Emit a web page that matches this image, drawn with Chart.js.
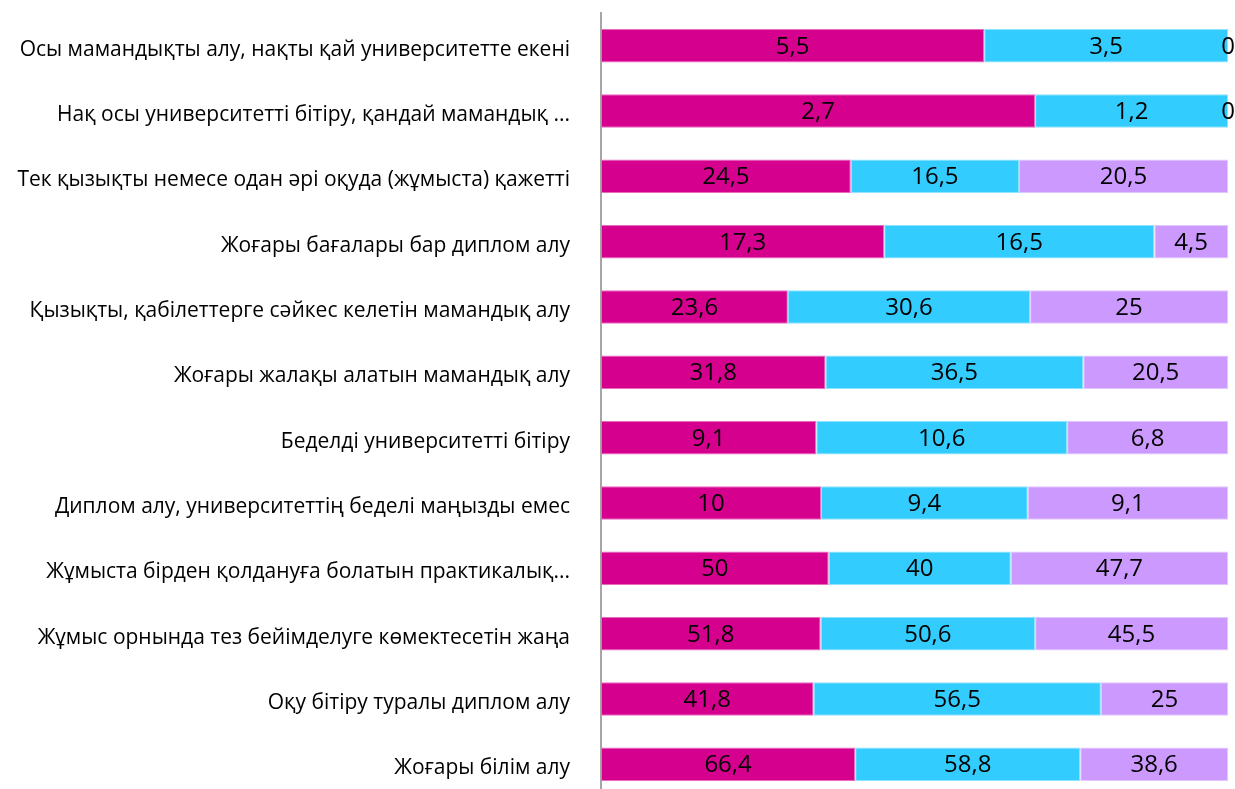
<!DOCTYPE html>
<html>
<head>
<meta charset="utf-8">
<script src="https://cdn.jsdelivr.net/npm/chart.js@4/dist/chart.umd.min.js"></script>
<style>
  html, body { margin: 0; padding: 0; background: #fff; overflow: hidden; }
  #wrap { position: relative; width: 1235px; height: 800px; }
</style>
</head>
<body>
<div id="wrap"><canvas id="c"></canvas></div>
<script>
const categories = [
  "Осы мамандықты алу, нақты қай университетте екені",
  "Нақ осы университетті бітіру, қандай мамандық ...",
  "Тек қызықты немесе одан әрі оқуда (жұмыста) қажетті",
  "Жоғары бағалары бар диплом алу",
  "Қызықты, қабілеттерге сәйкес келетін мамандық алу",
  "Жоғары жалақы алатын мамандық алу",
  "Беделді университетті бітіру",
  "Диплом алу, университеттің беделі маңызды емес",
  "Жұмыста бірден қолдануға болатын практикалық...",
  "Жұмыс орнында тез бейімделуге көмектесетін жаңа",
  "Оқу бітіру туралы диплом алу",
  "Жоғары білім алу"
];
const seriesA = [5.5, 2.7, 24.5, 17.3, 23.6, 31.8, 9.1, 10, 50, 51.8, 41.8, 66.4];
const seriesB = [3.5, 1.2, 16.5, 16.5, 30.6, 36.5, 10.6, 9.4, 40, 50.6, 56.5, 58.8];
const seriesC = [0, 0, 20.5, 4.5, 25, 20.5, 6.8, 9.1, 47.7, 45.5, 25, 38.6];
const seriesNames = ["1", "2", "3"];

const raw = [seriesA, seriesB, seriesC];
const totals = categories.map((_, i) => raw.reduce((s, arr) => s + arr[i], 0));
const pct = raw.map(arr => arr.map((v, i) => totals[i] ? v / totals[i] * 100 : 0));

const colors = ["#D6008F", "#33CCFF", "#CC99FF"];
const edge = ["#E86BBE", "#8EE3FF", "#E2C6FF"];

const valueLabels = {
  id: "valueLabels",
  afterDatasetsDraw(chart) {
    const ctx = chart.ctx;
    ctx.save();
    ctx.font = "24px 'Open Sans'";
    ctx.fillStyle = "#000";
    ctx.textAlign = "center";
    ctx.textBaseline = "middle";
    chart.data.datasets.forEach((ds, di) => {
      const meta = chart.getDatasetMeta(di);
      meta.data.forEach((el, i) => {
        const v = raw[di][i];
        const x = (el.x + el.base) / 2;
        ctx.fillText(String(v).replace(".", ","), x, el.y + 1);
      });
    });
    ctx.restore();
  }
};

new Chart(document.getElementById("c"), {
  type: "bar",
  data: {
    labels: categories,
    datasets: pct.map((d, i) => ({
      label: seriesNames[i],
      data: d,
      backgroundColor: colors[i],
      borderColor: edge[i],
      borderWidth: 1,
      borderSkipped: false,
      barPercentage: 1,
      categoryPercentage: 0.513
    }))
  },
  options: {
    indexAxis: "y",
    responsive: true,
    maintainAspectRatio: false,
    animation: false,
    layout: { padding: { top: 13, right: 7, left: 0, bottom: 3 } },
    plugins: {
      legend: { display: false },
      tooltip: { enabled: false }
    },
    scales: {
      x: { stacked: true, min: 0, max: 100, display: false },
      y: {
        stacked: true,
        afterFit(s) { s.width = 601; s.paddingTop = 0; s.paddingBottom = 0; },
        grid: { display: false, drawTicks: false },
        border: { display: true, color: "#A6A6A6", width: 2 },
        ticks: {
          color: "#000",
          padding: 31,
          labelOffset: 4,
          font: { family: "'Open Sans'", size: 21 }
        }
      }
    }
  },
  plugins: [valueLabels]
});
</script>
</body>
</html>
